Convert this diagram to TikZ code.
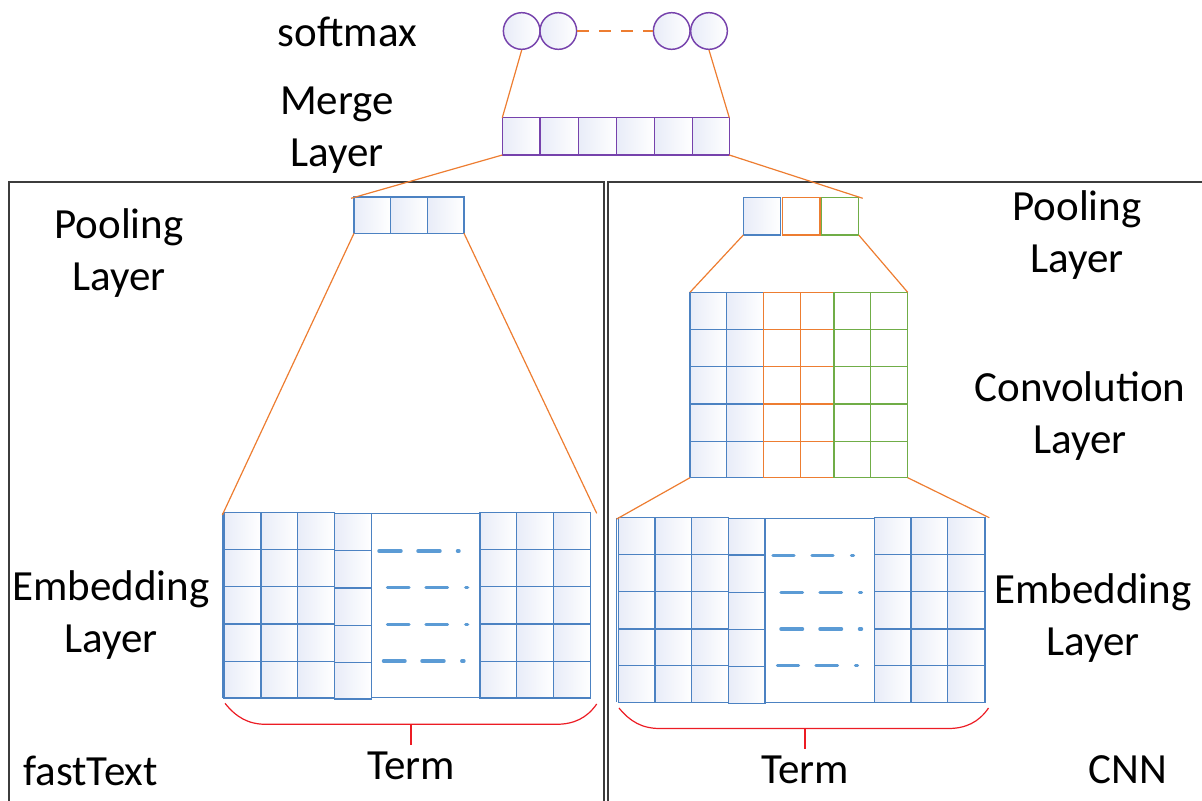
\documentclass[tikz,border=0pt]{standalone}
\usepackage{fontspec}
\setmainfont{Carlito}
\definecolor{cblue}{RGB}{76,130,194}
\definecolor{dblue}{RGB}{91,155,213}
\definecolor{corange}{RGB}{237,125,49}
\definecolor{cgreen}{RGB}{112,173,71}
\definecolor{cpurple}{RGB}{118,66,172}
\definecolor{cellbg}{RGB}{232,236,248}
\definecolor{cred}{RGB}{236,28,36}
\definecolor{frame}{RGB}{60,60,60}
\tikzset{
  shadecell/.style={left color=cellbg, right color=white},
  bluecell/.style={draw=cblue, line width=1.1pt, shadecell},
  orangecell/.style={draw=corange, line width=1.1pt, fill=white},
  greencell/.style={draw=cgreen, line width=1.1pt, fill=white},
  purplecell/.style={draw=cpurple, line width=1.1pt, shadecell},
  softc/.style={circle, draw=cpurple, line width=1.1pt, shadecell, minimum size=27.5pt, inner sep=0pt},
  link/.style={draw=corange, line width=0.9pt},
  dashln/.style={draw=dblue, line width=2.6pt, line cap=round},
  brace/.style={draw=cred, line width=0.9pt},
  framebox/.style={draw=frame, line width=1.3pt},
  lbl/.style={inner sep=0pt, align=center, font=\fontsize{32.25}{39}\selectfont},
}
\begin{document}
\begin{tikzpicture}[x=0.75pt,y=-0.75pt]
\useasboundingbox (0,0) rectangle (1202,800);

% ---------- outer frames ----------
\draw[framebox] (9,806) -- (9,182) -- (604,182) -- (604,806);
\draw[framebox] (608,806) -- (608,182) -- (1208,182);

% ---------- softmax units ----------
\node[softc] (s1) at (521.7,31) {};
\node[softc] (s2) at (558.3,31) {};
\node[softc] (s3) at (671.7,31) {};
\node[softc] (s4) at (709,31) {};
\draw[link, dash pattern=on 8.5pt off 8pt] (s2.east) -- (s3.west);

% ---------- merge layer ----------
\foreach \xa/\xb in {502.3/540,540/578.3,578.3/616.7,616.7/654.3,654.3/692.3,692.3/729.3}
  \draw[purplecell] (\xa,117.7) rectangle (\xb,155);
\coordinate (mergeTL) at (502.3,117.7);
\coordinate (mergeTR) at (729.3,117.7);
\coordinate (mergeBL) at (502.3,155);
\coordinate (mergeBR) at (729.3,155);
\draw[link] (s1.south) -- (mergeTL);
\draw[link] (s4.south) -- (mergeTR);

% ---------- fastText pooling ----------
\foreach \xa/\xb in {354/390.7,390.7/427.3,427.3/464}
  \draw[bluecell] (\xa,197) rectangle (\xb,233.3);
\coordinate (poolLtop) at (351,198.3);
\coordinate (poolLBL) at (354,233.3);
\coordinate (poolLBR) at (464,233.3);

% ---------- CNN pooling ----------
\draw[bluecell] (743.3,197.7) rectangle (780.7,235);
\draw[orangecell] (782.3,197.7) rectangle (820,235);
\draw[greencell] (821.3,197.7) rectangle (858.7,235);
\coordinate (poolRtop) at (862.7,198.3);
\coordinate (poolRBL) at (743.3,235);
\coordinate (poolRBR) at (858.7,235);

\draw[link] (mergeBL) -- (poolLtop);
\draw[link] (mergeBR) -- (poolRtop);

% ---------- convolution layer ----------
\foreach \ya/\yb in {292.3/329.3,329.3/366.7,366.7/404,404/441.3,441.3/477.7}{
  \foreach \xa/\xb in {690/726.7,726.7/763.3}
    \draw[bluecell] (\xa,\ya) rectangle (\xb,\yb);
  \foreach \xa/\xb in {763.3/800.7,800.7/834}
    \draw[orangecell] (\xa,\ya) rectangle (\xb,\yb);
  \foreach \xa/\xb in {834/870.7,870.7/907.7}
    \draw[greencell] (\xa,\ya) rectangle (\xb,\yb);
}
\coordinate (convTL) at (690,292.3);
\coordinate (convTR) at (907.7,292.3);
\coordinate (convBL) at (690,477.7);
\coordinate (convBR) at (907.7,477.7);
\draw[link] (poolRBL) -- (convTL);
\draw[link] (poolRBR) -- (convTR);

% ---------- fastText embedding ----------
\foreach \ya/\yb in {512.7/549.3,549.3/586.7,586.7/624,624/661.3,661.3/698}
  \foreach \xa/\xb in {224/261,261/297.7,297.7/334.3,480/516.7,516.7/553.3,553.3/590.7}
    \draw[bluecell] (\xa,\ya) rectangle (\xb,\yb);
\foreach \ya/\yb in {513.5/550.7,550.7/588,588/625.3,625.3/662.3,662.3/699}
  \draw[bluecell] (334.3,\ya) rectangle (371.3,\yb);
\draw[draw=cblue, line width=1.1pt, fill=white] (371.3,513.3) rectangle (480,697.3);
\draw[draw=cblue, line width=0.8pt] (222.3,512.7) -- (222.3,698);
\foreach \y/\a/\b/\c/\d/\e/\f in {551/379/401/418/440/457.5/459,
                                  587.7/387.5/409/426/447.5/465.7/467.6,
                                  624.3/387.5/409/426/447.5/465.7/467.6,
                                  661/383.5/405/422/444/461.8/463.9}{
  \draw[dashln] (\a,\y) -- (\b,\y);
  \draw[dashln] (\c,\y) -- (\d,\y);
  \draw[dashln] (\e,\y) -- (\f,\y);
}
\coordinate (embLTL) at (222.3,515);
\coordinate (embLTR) at (596.7,513.3);
\draw[link] (poolLBL) -- (embLTL);
\draw[link] (poolLBR) -- (embLTR);

% ---------- CNN embedding ----------
\foreach \ya/\yb in {517.7/554.3,554.3/591.7,591.7/629,629/665.7,665.7/702.3}
  \foreach \xa/\xb in {618.3/655,655/691.7,691.7/728.3,874.3/911,911/947.7,947.7/985}
    \draw[bluecell] (\xa,\ya) rectangle (\xb,\yb);
\foreach \ya/\yb in {518.3/555,555/592.3,592.3/629.3,629.3/666.7,666.7/703.3}
  \draw[bluecell] (728.3,\ya) rectangle (765,\yb);
\draw[draw=cblue, line width=1.1pt, fill=white] (765,518.3) rectangle (874.3,702.3);
\draw[draw=cblue, line width=0.8pt] (616.7,517.7) -- (616.7,702.3);
\foreach \y/\a/\b/\c/\d/\e/\f in {555.7/773/794/812/833/851.5/853.5,
                                  592.3/781/802.5/820/841.5/859.5/861.5,
                                  629/781/802.5/820/841.5/859.5/861.5,
                                  665.3/777.5/798.5/816/837.5/855.5/857.5}{
  \draw[dashln] (\a,\y) -- (\b,\y);
  \draw[dashln] (\c,\y) -- (\d,\y);
  \draw[dashln] (\e,\y) -- (\f,\y);
}
\coordinate (embRTL) at (616.7,519);
\coordinate (embRTR) at (989.3,517.7);
\draw[link] (convBL) -- (embRTL);
\draw[link] (convBR) -- (embRTR);

% ---------- term braces ----------
\coordinate (braceLtip) at (411,745);
\coordinate (braceRtip) at (805,749);
\draw[brace] (225,703.3) .. controls (236,717) and (248,724.3) .. (266,724.3)
  -- (556,724.3) .. controls (574,724.3) and (587,718) .. (596.7,704);
\draw[brace] (411,724.3) -- (braceLtip);
\draw[brace] (619,708) .. controls (630,721.5) and (642,728.5) .. (660,728.5)
  -- (948,728.5) .. controls (966,728.5) and (979,722) .. (988.5,708);
\draw[brace] (805,728.5) -- (braceRtip);

% ---------- labels ----------
\node[lbl, anchor=base] (tsoftmax) at (347.5,46) {softmax};
\node[lbl] (tmerge) at (337,130) {Merge\\Layer};
\node[lbl] (tpoolL) at (119,253) {Pooling\\Layer};
\node[lbl] (tpoolR) at (1077,235) {Pooling\\Layer};
\node[lbl] (tconv) at (1080,416) {Convolution\\Layer};
\node[lbl] (tembL) at (111,615) {Embedding\\Layer};
\node[lbl] (tembR) at (1093,618) {Embedding\\Layer};
\node[lbl, anchor=base west] (tfast) at (23,785) {fastText};
\node[lbl, anchor=base] (ttermL) at (411,779) {Term};
\node[lbl, anchor=base] (ttermR) at (805,783) {Term};
\node[lbl, anchor=base] (tcnn) at (1128,783) {CNN};
\end{tikzpicture}
\end{document}
